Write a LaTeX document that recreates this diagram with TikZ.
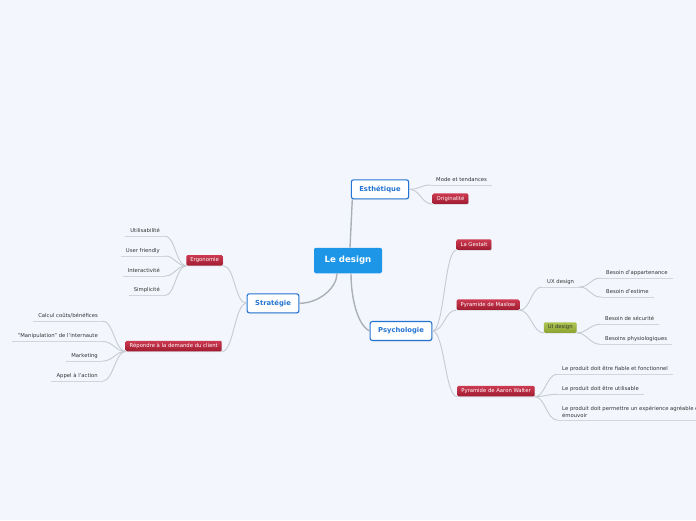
\documentclass[tikz,border=0pt]{standalone}
\usepackage{fontspec}
\setmainfont{DejaVu Sans}
\usetikzlibrary{shadows}
\definecolor{bgcol}{HTML}{F3F6FD}
\definecolor{rootblue}{HTML}{1D96E8}
\definecolor{mainblue}{HTML}{2474D2}
\definecolor{redtop}{HTML}{CC3A51}
\definecolor{redbot}{HTML}{A01B30}
\definecolor{greentop}{HTML}{AEC553}
\definecolor{greenbot}{HTML}{8BA330}
\definecolor{linegray}{HTML}{C6CAD2}
\definecolor{trunkgray}{HTML}{ABB0B8}
\definecolor{leafgray}{HTML}{D2D5DC}
\definecolor{txtgray}{HTML}{333333}
\newcommand\leaffont{\fontsize{5.3}{7.3}\selectfont}

\begin{document}
\begin{tikzpicture}[x=1pt, y=-1pt,
  rootnode/.style={fill=rootblue, text=white, rounded corners=2pt, font=\fontsize{8.6}{10}\selectfont\bfseries, minimum width=68pt, minimum height=25.5pt, inner sep=0pt},
  mainnode/.style={draw=mainblue, line width=1.1pt, fill=white, text=mainblue, rounded corners=2.2pt, font=\fontsize{6.8}{8}\selectfont\bfseries, inner xsep=8pt, inner ysep=0pt, minimum height=19pt, drop shadow={opacity=0.2, shadow xshift=0.6pt, shadow yshift=-0.9pt}},
  rednode/.style={top color=redtop, bottom color=redbot, text=white, rounded corners=1.2pt, font=\leaffont, inner xsep=4pt, inner ysep=0pt, minimum height=10.5pt, text height=4pt, text depth=1.1pt, drop shadow={opacity=0.2, shadow xshift=0.5pt, shadow yshift=-0.8pt}},
  greennode/.style={rednode, top color=greentop, bottom color=greenbot, text=txtgray},
  leaf/.style={font=\leaffont, text=txtgray, inner xsep=5pt, inner ysep=2.4pt, text height=4pt, text depth=1.2pt},
  conn/.style={draw=linegray, line width=0.9pt},
  trunk/.style={draw=trunkgray, line width=1.4pt},
  uline/.style={draw=leafgray, line width=0.9pt}]
\path[use as bounding box, fill=bgcol] (0,0) rectangle (696,520); \clip (0,0) rectangle (696,520);
\node[rootnode] (root) at (348,260.5) {Le design};
\node[mainnode] (esth) at (380,189.3) {Esthétique};
\node[mainnode] (strat) at (273,303.3) {Stratégie};
\node[mainnode] (psy) at (401,331) {Psychologie};
\node[rednode] (orig) at (450.5,198.7) {Originalité};
\node[rednode] (ergo) at (204.7,260.3) {Ergonomie};
\node[rednode] (rep) at (173.7,346) {Répondre à la demande du client};
\node[rednode] (gest) at (474,244.7) {La Gestalt};
\node[rednode] (maslow) at (488,304.7) {Pyramide de Maslow};
\node[rednode] (walter) at (496,391.2) {Pyramide de Aaron Walter};
\node[greennode] (ui) at (560.3,327.5) {UI design};
\node[leaf, anchor=south west] (mode) at (431,185) {Mode et tendances};
\node[leaf, anchor=south west] (ux) at (542,287) {UX design};
\node[leaf, anchor=south west] (app) at (601,278) {Besoin d'appartenance};
\node[leaf, anchor=south west] (est) at (601,297) {Besoin d'estime};
\node[leaf, anchor=south west] (secu) at (600,324.3) {Besoin de sécurité};
\node[leaf, anchor=south west] (phys) at (600,344.3) {Besoins physiologiques};
\node[leaf, anchor=south west] (fiable) at (557,374.3) {Le produit doit être fiable et fonctionnel};
\node[leaf, anchor=south west] (utile) at (557,394.3) {Le produit doit être utilisable};
\node[leaf, anchor=south west, align=left, text height={}, text depth={}] (emouv) at (557,420) {Le produit doit permettre un expérience agréable et\\émouvoir};
\node[leaf, anchor=south east] (util) at (165,236) {Utilisabilité};
\node[leaf, anchor=south east] (user) at (165,256) {User friendly};
\node[leaf, anchor=south east] (inter) at (165,276) {Interactivité};
\node[leaf, anchor=south east] (simp) at (165,295.5) {Simplicité};
\node[leaf, anchor=south east] (calc) at (103,321) {Calcul coûts/bénéfices};
\node[leaf, anchor=south east] (manip) at (103,341.5) {"Manipulation" de l'internaute};
\node[leaf, anchor=south east] (mark) at (103,361) {Marketing};
\node[leaf, anchor=south east] (appel) at (103,381) {Appel à l'action};
\foreach \n in {mode,ux,app,est,secu,phys,fiable,utile,emouv,util,user,inter,simp,calc,manip,mark,appel} \draw[uline] (\n.south west) -- (\n.south east);
\draw[trunk] ([xshift=2pt]root.north) -- ([xshift=1.5pt]esth.south west);
\draw[trunk] ([xshift=-11pt]root.south) .. controls +(0,14) and +(20,0) .. (strat.east);
\draw[trunk] ([xshift=3pt]root.south) .. controls +(0,25) and +(-12,-6) .. (psy.west);
\foreach \c in {mode.south west, orig.south west} \draw[conn] (esth.east) .. controls +(11,0) and +(-11,0) .. (\c);
\foreach \c in {ergo.south east, rep.south east} \draw[conn] (strat.west) .. controls +(-12,0) and +(12,0) .. (\c);
\foreach \c in {gest.south west, maslow.south west, walter.south west} \draw[conn] (psy.east) .. controls +(12,0) and +(-12,0) .. (\c);
\foreach \c in {ux.south west, ui.south west} \draw[conn] (maslow.south east) .. controls +(11,0) and +(-11,0) .. (\c);
\foreach \c in {app.south west, est.south west} \draw[conn] (ux.south east) .. controls +(11,0) and +(-11,0) .. (\c);
\foreach \c in {secu.south west, phys.south west} \draw[conn] (ui.south east) .. controls +(10,0) and +(-10,0) .. (\c);
\foreach \c in {fiable.south west, utile.south west, emouv.south west} \draw[conn] (walter.south east) .. controls +(10,0) and +(-10,0) .. (\c);
\foreach \c in {util.south east, user.south east, inter.south east, simp.south east} \draw[conn] (ergo.south west) .. controls +(-10,0) and +(10,0) .. (\c);
\foreach \c in {calc.south east, manip.south east, mark.south east, appel.south east} \draw[conn] (rep.south west) .. controls +(-10,0) and +(10,0) .. (\c);
\end{tikzpicture}
\end{document}
